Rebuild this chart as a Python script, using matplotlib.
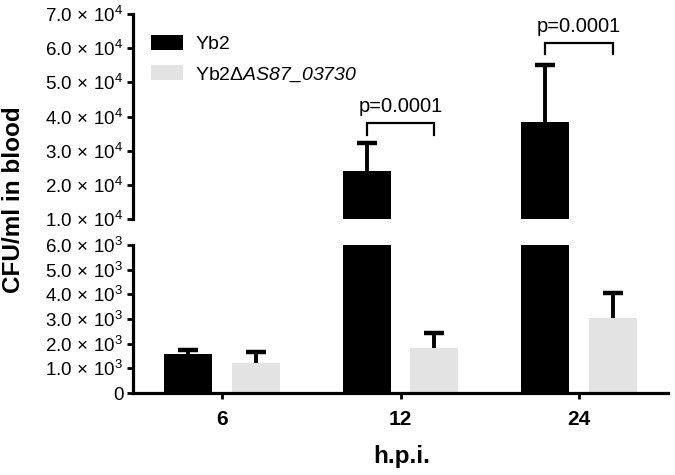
import numpy as np
import matplotlib
matplotlib.use("Agg")
import matplotlib.pyplot as plt
from matplotlib.patches import Patch

plt.rcParams['font.family'] = ['Liberation Sans', 'DejaVu Sans']
plt.rcParams['mathtext.fontset'] = 'custom'
plt.rcParams['mathtext.rm'] = 'Liberation Sans'
plt.rcParams['mathtext.it'] = 'Liberation Sans:italic'
plt.rcParams['mathtext.sf'] = 'Liberation Sans:italic'
plt.rcParams['mathtext.bf'] = 'Liberation Sans:bold'

# ---- data ----
categories = ['6', '12', '24']
series_names = ['Yb2', r'Yb2Δ$\mathsf{AS87\_03730}$']
yb2_mean = [1580, 24000, 38400]
yb2_err = [170, 8200, 16600]
mut_mean = [1220, 1830, 3050]
mut_err = [450, 610, 1020]

lower_ticks = [0, 1000, 2000, 3000, 4000, 5000, 6000]
lower_labels = ['0', r'$1.0\,\times\,10^{3}$', r'$2.0\,\times\,10^{3}$', r'$3.0\,\times\,10^{3}$',
                r'$4.0\,\times\,10^{3}$', r'$5.0\,\times\,10^{3}$', r'$6.0\,\times\,10^{3}$']
upper_ticks = [10000, 20000, 30000, 40000, 50000, 60000, 70000]
upper_labels = [r'$1.0\,\times\,10^{4}$', r'$2.0\,\times\,10^{4}$', r'$3.0\,\times\,10^{4}$',
                r'$4.0\,\times\,10^{4}$', r'$5.0\,\times\,10^{4}$', r'$6.0\,\times\,10^{4}$',
                r'$7.0\,\times\,10^{4}$']

# significance brackets (group index, bracket top, leg bottom, label)
sig_groups = [1, 2]
sig_top = [38100, 61500]
sig_leg = [34600, 58300]
sig_text = ['p=0.0001', 'p=0.0001']

black = '#000000'
grey = '#e3e3e3'

fig = plt.figure(figsize=(6.75, 4.75), dpi=100)
left, width = 133 / 675, 535 / 675
ax_lo = fig.add_axes([left, 82 / 475, width, 148 / 475])
ax_hi = fig.add_axes([left, 256 / 475, width, 205 / 475])

x = np.arange(len(categories))
bw = 0.27
off = 0.19
lw_spine = 2.3


def up_err(ax, xs, means, errs):
    _, caps, _ = ax.errorbar(xs, means, yerr=[np.zeros(len(errs)), errs], fmt='none',
                             ecolor=black, elinewidth=2.8, capsize=7.5, capthick=3.2,
                             zorder=3)
    caps[0].set_visible(False)


for ax in (ax_lo, ax_hi):
    ax.bar(x - off, yb2_mean, bw, color=black, zorder=2)
    ax.bar(x + off, mut_mean, bw, color=grey, zorder=2)
    up_err(ax, x - off, yb2_mean, yb2_err)
    up_err(ax, x + off, mut_mean, mut_err)
    ax.set_xlim(-0.5, 2.5)
    for s in ('top', 'right'):
        ax.spines[s].set_visible(False)
    ax.spines['left'].set_linewidth(lw_spine)
    ax.spines['bottom'].set_linewidth(lw_spine)
    ax.tick_params(axis='y', direction='out', length=4, width=2, labelsize=13.5, pad=3)

ax_lo.set_ylim(0, 6000)
ax_lo.set_yticks(lower_ticks)
ax_lo.set_yticklabels(lower_labels)
ax_lo.set_xticks(x)
ax_lo.set_xticklabels(categories, fontweight='bold')
ax_lo.tick_params(axis='x', direction='out', length=4, width=2, labelsize=15, pad=8)

ax_hi.set_ylim(10000, 70000)
ax_hi.set_yticks(upper_ticks)
ax_hi.set_yticklabels(upper_labels)
ax_hi.spines['bottom'].set_visible(False)
ax_hi.set_xticks([])

# brackets
for g, top, leg, txt in zip(sig_groups, sig_top, sig_leg, sig_text):
    x0, x1 = g - off, g + off
    ax_hi.plot([x0, x0, x1, x1], [leg, top, top, leg], color=black, lw=1.6,
               solid_joinstyle='miter', zorder=4)
    ax_hi.text((x0 + x1) / 2, top + 3200, txt, ha='center', va='baseline', fontsize=14.5)

# legend
handles = [Patch(facecolor=black, edgecolor='none'), Patch(facecolor=grey, edgecolor='none')]
fig.legend(handles, series_names, loc='upper left', bbox_to_anchor=(151 / 675, 1 - 35 / 475),
           frameon=False, fontsize=14, handlelength=1.65, handleheight=0.82,
           labelspacing=0.62, handletextpad=0.62, borderpad=0, borderaxespad=0)

fig.text(14 / 675, 1 - 200 / 475, 'CFU/ml in blood', rotation=90, ha='center', va='center',
         fontsize=17.5, fontweight='bold')
fig.text(402 / 675, 1 - 457 / 475, 'h.p.i.', ha='center', va='center',
         fontsize=17.5, fontweight='bold')

fig.savefig('out.png', dpi=100)
